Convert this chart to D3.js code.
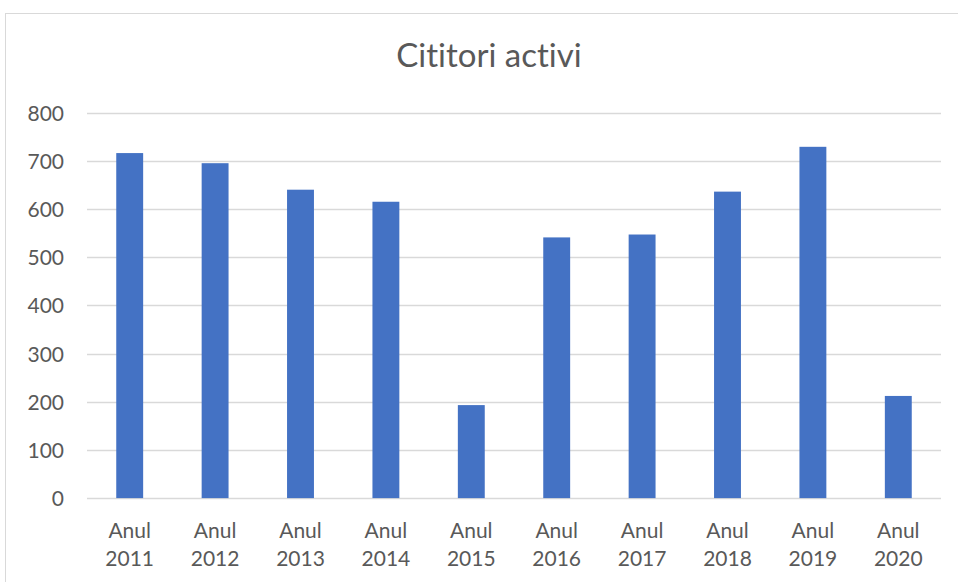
<!DOCTYPE html>
<html><head><meta charset="utf-8">
<script src="https://cdn.jsdelivr.net/npm/d3@7"></script>
<style>body{margin:0;background:#fff;}svg{display:block;} text{font-variant-ligatures:none;font-feature-settings:"liga" 0;}</style>
</head><body>
<script>
const categories = ["2011","2012","2013","2014","2015","2016","2017","2018","2019","2020"];
const values = [716, 695, 640, 615, 193, 541, 547, 636, 729, 212];
const yTicks = [0,100,200,300,400,500,600,700,800];
const title = "Cititori activi";

const W = 958, H = 582;
const svg = d3.select("body").append("svg").attr("width", W).attr("height", H);
svg.append("rect").attr("x",5.5).attr("y",13.5).attr("width",W+10).attr("height",H+10)
  .attr("fill","#fff").attr("stroke","#d9d9d9").attr("stroke-width",1);

const x = d3.scaleBand().domain(categories).range([87, 941]).paddingInner(0.685).paddingOuter(0.3425);
const y = d3.scaleLinear().domain([0, 800]).range([498.1, 112.6]);
const font = "Lato, 'Open Sans', sans-serif";

const grid = svg.append("g");
grid.selectAll("line").data(yTicks).join("line")
  .attr("x1", 87).attr("x2", 941)
  .attr("y1", d => Math.round(y(d))+0.5).attr("y2", d => Math.round(y(d))+0.5)
  .attr("stroke", "#d9d9d9").attr("stroke-width", 1.3);

const yAxis = d3.axisLeft(y).tickValues(yTicks).tickSize(0).tickPadding(0);
const ya = svg.append("g").attr("transform","translate(64,0)").call(yAxis);
ya.select(".domain").remove();
ya.selectAll("text").attr("fill","#595959").style("font-family",font).style("font-size","21px").attr("dy","0.36em");

svg.append("g").selectAll("rect").data(values).join("rect")
  .attr("x", (d,i) => x(categories[i])).attr("width", x.bandwidth())
  .attr("y", d => y(d)).attr("height", d => y(0) - y(d))
  .attr("fill", "#4472C4");

const xa = svg.append("g");
categories.forEach(c => {
  const t = xa.append("text").attr("x", x(c) + x.bandwidth()/2).attr("text-anchor","middle")
    .attr("fill","#595959").style("font-family",font).style("font-size","21px");
  t.append("tspan").attr("x", x(c) + x.bandwidth()/2).attr("y", 537.5).text("Anul");
  t.append("tspan").attr("x", x(c) + x.bandwidth()/2).attr("y", 566).text(c);
});

svg.append("text").attr("x", 489).attr("y", 67).attr("text-anchor","middle")
  .attr("fill","#595959").style("font-family",font).style("font-size","33px").text(title);
</script>
</body></html>
